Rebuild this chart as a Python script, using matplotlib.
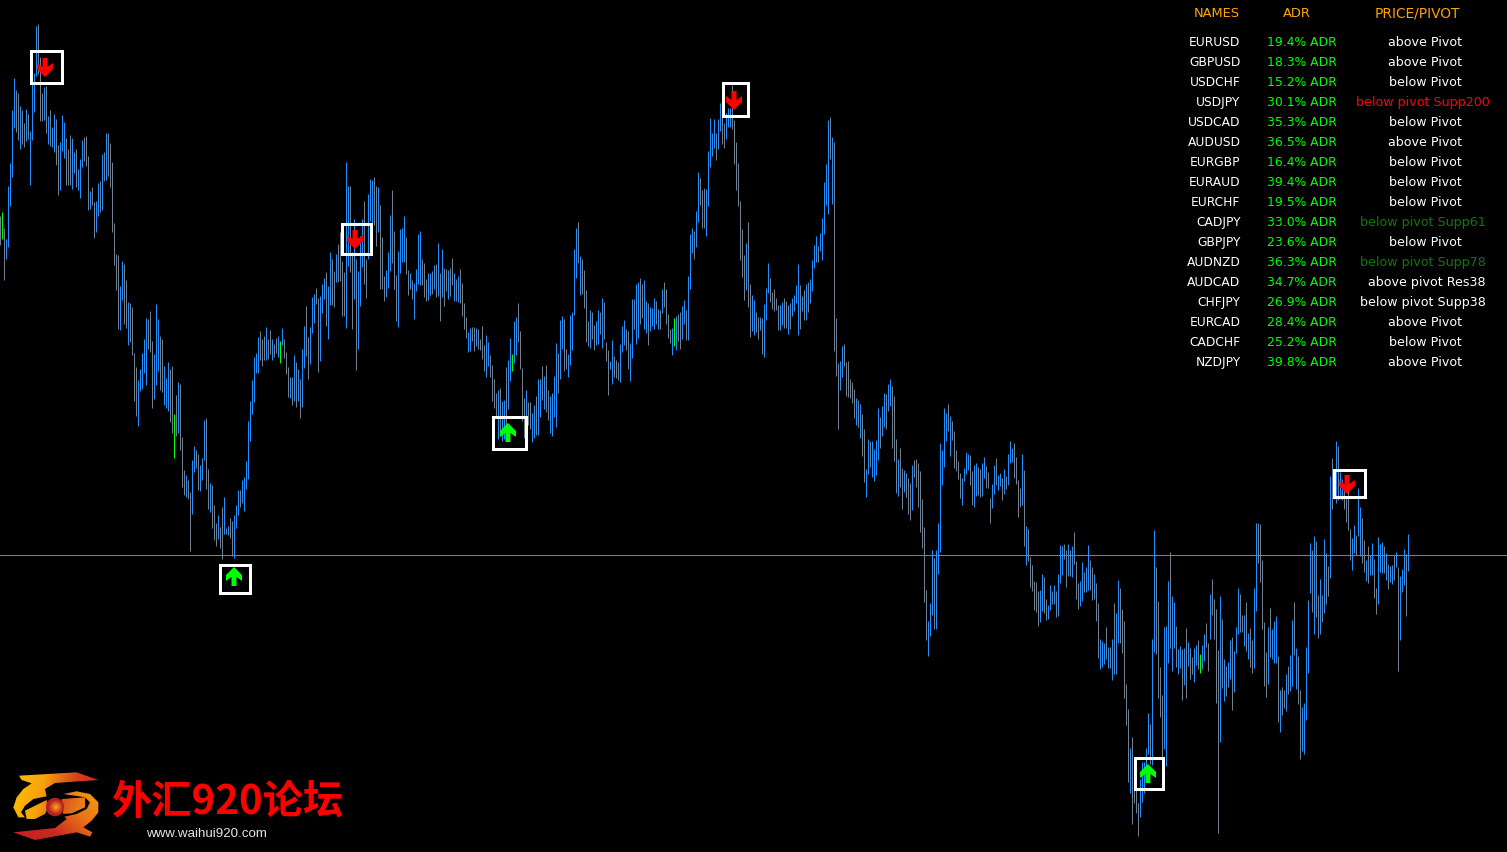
import numpy as np
import matplotlib
matplotlib.use('Agg')
import matplotlib.pyplot as plt
from matplotlib.colors import LinearSegmentedColormap
from matplotlib.patches import Circle, PathPatch, Polygon, Rectangle
from matplotlib.path import Path

# bars (chart is in screen units, no price axis shown)
high_a = [217,213,229,240,187,164,111,79,91,94,
          107,111,124,110,115,132,83,74,27,25,
          58,94,88,87,117,111,128,115,120,146,
          143,116,123,139,150,136,139,153,150,170,
          160,141,138,137,157,192,188,203,202,184,
          182,155,153,134,134,144,163,224,255,256,
          287,262,265,281,303,304,308,354,368,381,
          370,354,340,319,320,312,342,355,305,320,
          337,340,367,379,363,370,367,415,396,383,
          385,438,471,476,481,493,461,447,451,455,
          466,459,421,419,470,484,486,506,524,516,
          528,508,498,529,527,519,522,516,506,491,
          491,481,478,462,422,402,381,358,354,338,
          332,340,337,328,340,331,340,345,339,337,
          342,329,340,353,368,378,378,356,363,370,
          380,350,327,307,338,328,298,295,289,299,
          297,285,279,273,287,253,260,272,255,245,
          233,262,273,163,187,187,253,220,260,272,
          237,220,202,260,195,180,181,178,187,188]
low_a = [246,240,281,260,248,207,178,129,133,141,
         150,145,148,142,140,186,141,113,77,75,
         122,122,121,134,145,147,148,153,166,196,
         191,152,159,186,186,186,190,174,188,191,
         199,168,162,167,211,210,206,239,233,217,
         213,211,182,181,177,188,233,266,291,330,
         331,301,325,329,346,343,356,402,417,427,
         392,390,374,386,350,353,409,400,386,372,
         391,393,406,409,412,423,434,459,437,434,
         451,488,496,498,500,552,515,473,469,491,
         492,481,461,490,510,513,529,541,547,540,
         549,560,535,535,536,539,557,559,529,516,
         508,504,512,490,480,442,415,403,374,374,
         361,367,361,361,360,355,361,358,354,358,
         364,346,359,375,398,399,406,402,408,402,
         419,408,369,357,380,365,334,324,305,373,
         362,314,300,327,340,306,306,308,283,283,
         282,317,317,329,267,273,330,300,371,350,
         307,268,285,299,260,222,225,226,247,233]
kind_a = ("glgbbbbbgg" "bggbgbbbbg" "ggbgbgbbgg" "bbbgggbbgb" "bbgggbggbb"
          "gbgbgggggg" "bbggbggggb" "bbbbgggbbb" "ggbbbgglgb" "gggbggbbgg"
          "bbbggbgggb" "ggbgbggbbb" "gbbbbbbbbb" "gggbggbggb" "lbgggbgbgb"
          "gbbggbbbgg" "bbbgbbggbg" "gggbbggbgb" "bbggbbbggb")

high_b = [206,238,277,271,253,216,191,232,276,252,
          230,229,217,238,271,274,281,284,270,235,
          232,260,264,280,274,274,272,266,265,244,
          274,250,269,270,271,269,259,274,280,277,
          270,284,304,318,333,329,328,328,329,330,
          340,327,346,336,343,356,366,380,394,391,
          389,402,401,368,361,339,355,322,318,304,
          332,369,399,391,403,403,414,406,397,380,
          380,367,377,366,391,397,394,377,344,354,
          321,317,320,350,355,316,313,250,229,223,
          257,260,271,291,322,311,313,326,322,311,
          313,299,303,343,351,362,341,357,361,363,
          345,327,321,330,332,344,300,300,285,283,
          279,285,281,302,304,308,309,299,302,310,
          311,290,283,290,315,330,329,319,317,315,
          313,307,301,311,277]
low_b = [290,290,302,298,289,272,264,290,322,328,
         274,263,263,275,296,290,300,320,292,285,
         286,286,298,302,301,296,295,290,298,297,
         322,298,307,292,300,297,286,302,302,303,
         304,317,330,339,353,352,342,352,347,350,
         351,360,372,378,367,378,402,409,417,440,
         435,442,440,427,410,382,372,364,356,343,
         370,422,439,420,426,430,443,439,436,436,
         418,401,410,413,421,434,437,418,428,394,
         380,350,372,370,378,366,351,316,279,264,
         296,295,309,343,347,349,340,351,346,345,
         335,349,340,362,396,370,385,378,379,381,
         383,353,346,351,370,382,359,330,345,339,
         325,319,330,334,346,332,327,330,325,330,
         330,314,308,325,339,344,356,347,351,342,
         350,340,325,341,341]
kind_b = ("gggbbbgggb" "bbbggbgbbb" "bgggbbgbgb" "gbggbggbgb" "ggggbbggbg"
          "gggbbggggb" "gbbgbblbbg" "gggbggbbgb" "bgbggbbbbg" "bbggbbbbbg"
          "bggggbggbb" "gbgggbbggg" "bbbggbbgbb" "ggbbgbbbgb" "gbggggblbg"
          "gbbgb")

high_c = [235,229,232,212,173,179,191,189,190,152,
          119,134,120,134,120,104,110,124,114,109,
          109,86,121,143,164,202,230,256,244,223,
          285,296,301,313,318,318,319,305,289,264,
          279,293,290,299,306,306,303,299,302,306,
          304,299,296,286,265,286,297,291,285,283,
          280,261,246,237,247,234,219,183,165,121,
          118,138,143,319,364,362,347,345,363,362]
low_c = [290,254,260,248,223,206,229,229,237,207,
         168,157,149,161,150,132,145,149,140,128,
         128,130,165,191,207,261,278,301,291,308,
         338,332,336,333,340,331,355,358,321,294,
         303,310,312,311,331,331,326,329,329,335,
         330,317,312,304,336,330,312,321,321,313,
         304,292,269,263,263,252,261,235,206,215,
         160,205,352,377,430,391,378,367,397,398]
kind_c = ("bbgbbgggbb" "bbbgbbggbb" "bgggggggbg" "gbbggbgbbb" "gggggbbggb"
          "gbbbbgbgbg" "bbbbgbbbbb" "gbgggbbggg")

high_d = [380,383,390,399,401,405,415,430,470,440,
          442,442,450,441,409,418,407,394,395,385,
          380,387,397,440,460,449,469,471,474,479,
          484,466,461,460,464,472,500,528,591,622,
          604,551,559,551,524,444,451,409,414,405,
          417,422,432,451,462,474,479,469,453,455,
          456,472,466,464,468,470,464,458,467,473,
          499,485,466,459,476,474,479,470,477,455,
          442,449,444,458,481,489,455,471,527,530,
          558,566,582,583,592,591,575,578,600,606,
          586,592,586,592,575,546,547,545,551,545,
          551,547,533,562,584,582,563,573,568,546,
          561,568,575,584,604]
low_d = [399,404,419,426,428,439,457,483,498,475,
         468,478,482,476,461,449,437,428,430,412,
         407,449,462,494,497,488,510,493,498,515,
         521,511,478,488,508,533,549,603,641,657,
         637,616,630,630,575,553,486,468,442,432,
         457,441,469,472,480,499,506,482,475,471,
         486,506,508,497,496,498,497,479,489,489,
         524,509,495,486,491,487,501,495,490,486,
         464,463,479,485,518,508,506,547,566,562,
         588,592,611,613,627,623,612,614,621,620,
         611,605,605,618,617,584,576,560,588,577,
         577,578,565,600,610,607,602,593,593,591,
         591,601,600,622,659]
kind_d = ("gggbgbggbb" "gbbbbgbbgb" "bgggbggbgg" "gbgggggggb" "bbgbbbbbbg"
          "bgggggbbbb" "ggbbggbbgg" "gbbgbbgbgb" "bbggggbgbg" "gggggbbggb"
          "bgbgbbbggb" "gbgggbbgbb" "ggbgg")

high_e = [640,642,644,628,648,648,640,604,614,581,
          589,610,622,685,710,749,738,760,770,804,
          780,763,763,749,714,725,640,531,568,602,
          668,696,628,627,582,553,597,603,627,650,
          647,650,649,629,643,649,658,649,646,641,
          655,646,635,624,644,595,580,600,610,651,
          597,620,660,667,663,641,638,652,628,589,
          595,616,616,603,634,629,641,589,524,524,
          525,561,623,653,628,609,630,622,617,657,
          691,688,691,675,667,656,621,603,649,657,
          691,708,704,648,601,544,551,537,542,596,
          580,596,540,554,567,477,459,470,442,447,
          473,480,490,497,477,530,539,526,536,489,
          508,519,541,561,547,556,544,560,589,538,
          545,543,547,554,565,567,566,556,553,568,
          577,570,550,555,535]
low_e = [670,668,665,660,669,669,681,675,675,644,
         644,654,699,726,783,794,825,804,814,837,
         818,803,794,775,755,765,766,653,655,699,
         718,760,750,767,664,649,672,649,668,675,
         669,701,686,699,667,680,675,683,666,670,
         674,670,662,648,672,640,616,640,704,834,
         743,689,702,697,688,680,711,693,654,635,
         633,633,647,652,660,668,674,669,612,564,
         583,630,687,698,685,658,660,664,664,723,
         733,716,709,712,695,692,687,656,690,705,
         760,752,755,721,674,594,613,635,618,639,
         635,623,614,605,597,579,510,500,504,501,
         500,501,510,523,531,561,571,554,556,537,
         557,564,573,582,584,576,576,599,615,605,
         573,574,574,581,590,583,585,581,568,672,
         641,593,586,617,572]
kind_e = ("bbbgbgbgbb" "gggggbgggg" "bbbbbgbbgg" "ggbbbgbbgb" "bgbgbggbbg"
          "lbbggbgggg" "bgbgbbgbbb" "ggbgbggbbg" "ggggbgbbbg" "bggbgbbgbg"
          "gbbbbbgbgg" "bgbggbggbg" "bbggggbbgb" "bggbgbbggb" "bbgbgbbgbg"
          "bbbgb")

level_line = 555

# signal boxes: left, top, right, bottom, direction
sig_left = [30, 341, 219, 492, 722, 1134, 1333]
sig_top = [51, 224, 565, 417, 83, 758, 470]
sig_right = [63, 372, 251, 527, 749, 1164, 1366]
sig_bottom = [85, 256, 595, 451, 118, 791, 499]
sig_arrow_x = [45, 355, 234, 508, 734, 1148, 1347]
sig_arrow_y = [59, 231, 568, 424, 92, 765, 476]
sig_up = [False, False, True, True, False, True, False]

# table at top right
names = ['EURUSD','GBPUSD','USDCHF','USDJPY','USDCAD','AUDUSD','EURGBP','EURAUD','EURCHF',
         'CADJPY','GBPJPY','AUDNZD','AUDCAD','CHFJPY','EURCAD','CADCHF','NZDJPY']
adr = [19.4,18.3,15.2,30.1,35.3,36.5,16.4,39.4,19.5,33.0,23.6,36.3,34.7,26.9,28.4,25.2,39.8]
pivots = ['above Pivot','above Pivot','below Pivot','below pivot Supp200','below Pivot','above Pivot',
          'below Pivot','below Pivot','below Pivot','below pivot Supp61','below Pivot',
          'below pivot Supp78','above pivot Res38','below pivot Supp38','above Pivot','below Pivot','above Pivot']
pivot_colors = ['white','white','white','#ff0000','white','white','white','white','white',
                '#0a7a0a','white','#0a7a0a','white','white','white','white','white']

bar_colors = {'b': '#1e90ff', 'g': '#708090', 'l': '#00ff00'}

high = np.array(high_a + high_b + high_c + high_d + high_e)
low = np.array(low_a + low_b + low_c + low_d + low_e)
kinds = np.array(list(kind_a + kind_b + kind_c + kind_d + kind_e))

fig = plt.figure(figsize=(15.07, 8.53), dpi=100, facecolor='black')
ax = fig.add_axes([0, 0, 1, 1], facecolor='black')
ax.set_axis_off()

# one bar every 2 px, 1 px wide; snapping puts them on the even pixel columns
bar_x = np.arange(len(high)) * 2
for k in bar_colors:
    m = kinds == k
    ax.vlines(bar_x[m], high[m], low[m], color=bar_colors[k], linewidth=0.72, zorder=2)
ax.axhline(level_line + 0.75, color='#808080', linewidth=0.72, zorder=3)

# arrow outline, measured from the point where the shaft starts
arrow_dx = np.array([-2.5, 2.5, 2.5, 8, 8, 0, -8, -8, -2.5])
arrow_dy = np.array([0, 0, 9, 5, 11, 19, 11, 5, 9])

for i in range(len(sig_left)):
    ax.add_patch(Rectangle((sig_left[i] + 0.5, sig_top[i] + 1),
                           sig_right[i] - sig_left[i] - 1.5, sig_bottom[i] - sig_top[i] - 2,
                           fill=False, edgecolor='white', linewidth=2.16,
                           joinstyle='miter', zorder=4))
    if sig_up[i]:
        ys = sig_arrow_y[i] + 19 - arrow_dy
        col = '#00ff00'
    else:
        ys = sig_arrow_y[i] + arrow_dy
        col = '#ff0000'
    ax.add_patch(Polygon(np.column_stack([sig_arrow_x[i] + arrow_dx, ys]),
                         closed=True, facecolor=col, edgecolor='none', zorder=5))

# table
table_font = 'DejaVu Sans'
ax.text(1240, 13.5, 'NAMES', color='#ffa500', fontsize=9.4, ha='right', va='center', family=table_font)
ax.text(1311, 13.5, 'ADR', color='#ffa500', fontsize=9.4, ha='right', va='center', family=table_font)
ax.text(1460, 13.5, 'PRICE/PIVOT', color='#ffa500', fontsize=9.9, ha='right', va='center', family=table_font)
for i in range(len(names)):
    y = 42.2 + 20 * i
    ax.text(1240.5, y, names[i], color='white', fontsize=8.85, ha='right', va='center', family=table_font)
    ax.text(1336.5, y, '%.1f%% ADR' % adr[i], color='#00ff00', fontsize=8.95, ha='right', va='center', family=table_font)
    if 'Pivot' in pivots[i]:
        ax.text(1425, y, pivots[i], color=pivot_colors[i], fontsize=9.05, ha='center', va='center', family=table_font)
    else:
        ax.text(1490 if 'Supp200' in pivots[i] else 1486, y, pivots[i], color=pivot_colors[i],
                fontsize=9.05, ha='right', va='center', family=table_font)

# logo, bottom left
def zoomed(points):
    return [(5 + a / 3, 765 + b / 3) for a, b in points]

def gradient_shape(points, cmap, x0, x1, y0, y1, angle):
    px = np.linspace(0, 1, 120)
    py = np.linspace(0, 1, 120)
    gx, gy = np.meshgrid(px, py)
    g = gx * np.cos(angle) + gy * np.sin(angle)
    im = ax.imshow(g, extent=(x0, x1, y1, y0), cmap=cmap, aspect='auto', zorder=6, interpolation='bilinear')
    pts = zoomed(points)
    patch = PathPatch(Path(pts + [pts[0]], closed=True), transform=ax.transData, facecolor='none', edgecolor='none')
    ax.add_patch(patch)
    im.set_clip_path(patch)

warm = LinearSegmentedColormap.from_list('warm', ['#ffc400', '#f7a30c', '#d8401c', '#c41f22'])
warm_rev = LinearSegmentedColormap.from_list('warm_rev', ['#c41f22', '#c8281f', '#e8761a', '#f7a30c'])

upper_piece = [(42,35),(215,25),(280,48),(150,57),(120,75),(125,97),(85,105),(60,125),(48,145),(60,160),
               (40,160),(25,130),(35,100),(55,75),(80,58),(50,48)]
upper_inner = [(60,140),(125,108),(127,135),(120,150),(90,165),(65,165)]
lower_piece = [(175,90),(215,82),(255,90),(280,115),(280,145),(260,170),(235,190),(262,205),(255,218),
               (215,205),(90,228),(25,205),(150,192),(185,165),(178,158),(215,150),(245,135),(255,115),(240,100),(210,95)]
lower_inner = [(170,105),(240,100),(240,130),(200,148),(175,150),(172,130)]

gradient_shape(upper_piece, warm, 13, 98, 773, 820, 0.15)
gradient_shape(upper_inner, warm, 13, 98, 773, 820, 0.15)
gradient_shape(lower_piece, warm_rev, 13, 100, 790, 841, -0.6)
gradient_shape(lower_inner, warm_rev, 13, 100, 790, 841, 0.2)

ball_cmap = LinearSegmentedColormap.from_list('ball', ['#f6a623', '#e0641c', '#b81f20', '#b81f20'])
bx, by = np.meshgrid(np.linspace(-1, 1, 60), np.linspace(-1, 1, 60))
ball = ax.imshow(np.hypot(bx, by), extent=(46, 66, 818, 798), cmap=ball_cmap, vmin=0, vmax=1.1,
                 aspect='auto', zorder=7, interpolation='bilinear')
ball_edge = Circle((55, 808), 9.2, transform=ax.transData, facecolor='none', edgecolor='none')
ax.add_patch(ball_edge)
ball.set_clip_path(ball_edge)

ax.text(227, 802.5, '外汇920论坛', color='#ff0000', fontsize=29, fontweight='bold', ha='center', va='center',
        family=['Noto Sans CJK SC', 'DejaVu Sans'], zorder=7)
ax.text(206.5, 834.5, 'www.waihui920.com', color='#e6e6e6', fontsize=9.6, ha='center', va='center',
        family='Liberation Sans', zorder=7)

ax.set_xlim(0, 1507)
ax.set_ylim(853, 0)

fig.savefig('out.png', dpi=100, facecolor='black')
